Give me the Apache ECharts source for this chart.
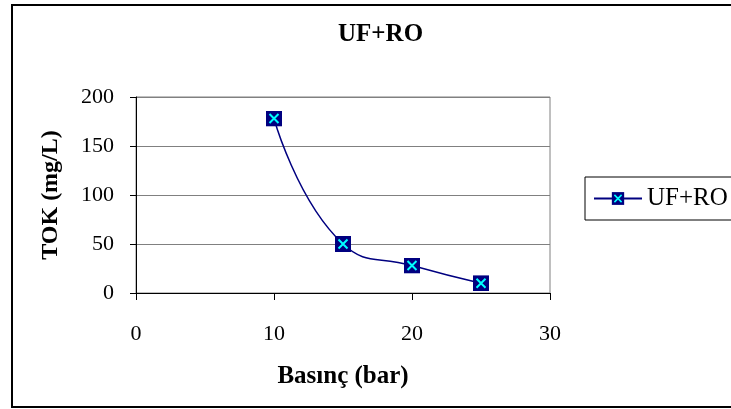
<!DOCTYPE html>
<html>
<head>
<meta charset="utf-8">
<script src="https://cdn.jsdelivr.net/npm/echarts@6/dist/echarts.min.js"></script>
<style>
html,body{margin:0;padding:0;background:#fff;}
#chart{width:731px;height:409px;}
</style>
</head>
<body>
<div id="chart"></div>
<script>
// Data
var seriesName = 'UF+RO';
var pressure = [10, 15, 20, 25];        // Basınç (bar)
var tok = [178, 50, 28, 10];            // TOK (mg/L)
var xTicks = [0, 10, 20, 30];
var yTicks = [0, 50, 100, 150, 200];

var FONT = 'Liberation Serif, Times New Roman, serif';
var markerSvg = '<svg xmlns="http://www.w3.org/2000/svg" width="16" height="16" viewBox="0 0 16 16">' +
  '<rect x="0" y="0" width="16" height="16" fill="#000080"/>' +
  '<path d="M3.5 3.5 L12.5 12.5 M12.5 3.5 L3.5 12.5" stroke="#00FFFF" stroke-width="2" fill="none"/></svg>';
var markerImg = 'image://data:image/svg+xml;charset=utf-8,' + encodeURIComponent(markerSvg);

var chart = echarts.init(document.getElementById('chart'), null, {renderer: 'canvas'});
chart.setOption({
  animation: false,
  backgroundColor: '#ffffff',
  title: {
    text: seriesName,
    left: 333,
    top: 17,
    textStyle: {fontFamily: FONT, fontSize: 25, fontWeight: 'bold', color: '#000'}
  },
  legend: {
    data: [seriesName],
    left: 585,
    top: 177,
    padding: [9, 30, 9, 8],
    borderColor: '#000',
    borderWidth: 1,
    itemWidth: 48,
    itemHeight: 16,
    itemGap: 5,
    textStyle: {fontFamily: FONT, fontSize: 25, color: '#000'}
  },
  grid: {
    left: 136, right: 181, top: 97, bottom: 116,
    show: true, borderColor: '#808080', borderWidth: 1
  },
  xAxis: {
    type: 'value',
    min: xTicks[0], max: xTicks[xTicks.length - 1], interval: 10,
    name: 'Basınç (bar)',
    nameLocation: 'middle',
    nameGap: 71,
    nameTextStyle: {fontFamily: FONT, fontSize: 25, fontWeight: 'bold', color: '#000'},
    axisLine: {show: true, onZero: false, lineStyle: {color: '#000', width: 1}},
    axisTick: {show: true, length: 7, lineStyle: {color: '#000'}},
    axisLabel: {margin: 30, fontFamily: FONT, fontSize: 22, color: '#000'},
    splitLine: {show: false}
  },
  yAxis: {
    type: 'value',
    min: yTicks[0], max: yTicks[yTicks.length - 1], interval: 50,
    name: 'TOK (mg/L)',
    nameLocation: 'middle',
    nameGap: 73,
    nameTextStyle: {fontFamily: FONT, fontSize: 24, fontWeight: 'bold', color: '#000'},
    axisLine: {show: true, lineStyle: {color: '#000', width: 1}},
    axisTick: {show: true, length: 6, lineStyle: {color: '#000'}},
    axisLabel: {margin: 22, fontFamily: FONT, fontSize: 22, color: '#000'},
    splitLine: {show: true, lineStyle: {color: '#808080', width: 1}}
  },
  graphic: [{
    type: 'rect',
    shape: {x: 12, y: 5, width: 740, height: 402},
    style: {fill: 'none', stroke: '#000', lineWidth: 2},
    silent: true,
    z: 100
  }],
  series: [{
    name: seriesName,
    type: 'line',
    data: pressure.map(function (p, i) { return [p, tok[i]]; }),
    smooth: 0.5,
    symbol: markerImg,
    symbolSize: 16,
    showAllSymbol: true,
    lineStyle: {color: '#000080', width: 1.5},
    itemStyle: {color: '#000080'}
  }]
});
</script>
</body>
</html>
